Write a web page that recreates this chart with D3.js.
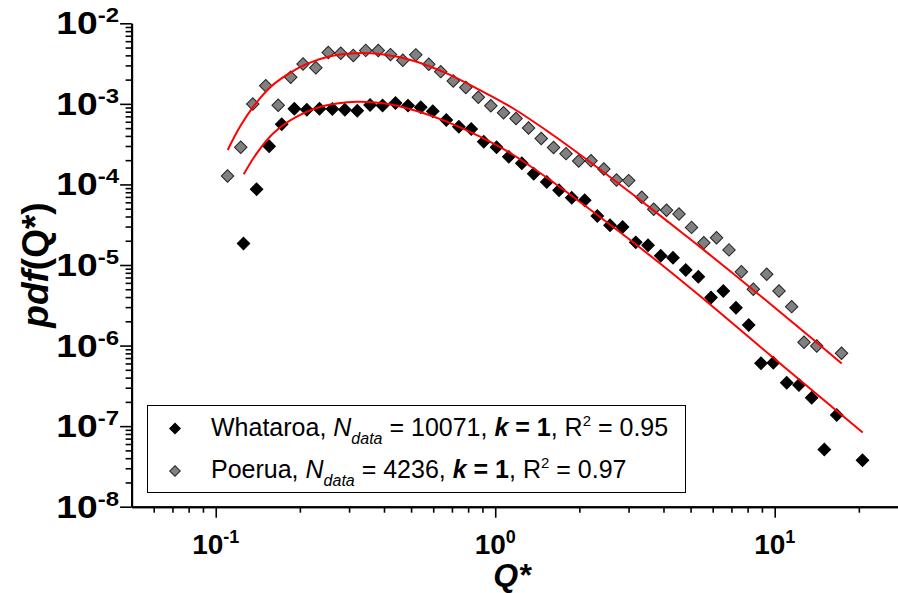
<!DOCTYPE html>
<html><head><meta charset="utf-8">
<script src="https://cdn.jsdelivr.net/npm/d3@7"></script>
<style>body{margin:0;background:#fff} svg{display:block} text{font-family:"Liberation Sans",Arial,sans-serif}</style>
</head><body><svg id="c" width="898" height="593"></svg>
<script>
// ---- data ----
const whataroaQ = [0.1257,0.140,0.1553,0.1722,0.1911,0.2118,0.2351,0.2614,0.2897,0.3209,0.3566,0.3953,0.4398,0.4875,0.5414,0.5978,0.6683,0.7410,0.8206,0.9097,1.011,1.118,1.245,1.373,1.529,1.692,1.878,2.090,2.319,2.575,2.855,3.183,3.522,3.910,4.326,4.805,5.330,5.918,6.548,7.268,8.072,8.933,9.886,11.04,12.21,13.56,15.05,16.67,20.61];
const whataroaPdf = [1.85e-5,8.73e-5,2.98e-4,5.59e-4,8.69e-4,8.44e-4,8.69e-4,8.64e-4,8.44e-4,8.23e-4,9.68e-4,9.54e-4,1.025e-3,9.52e-4,9.09e-4,8.11e-4,6.31e-4,5.21e-4,4.88e-4,3.39e-4,2.90e-4,2.20e-4,1.83e-4,1.356e-4,1.072e-4,8.48e-5,6.84e-5,6.36e-5,4.06e-5,3.12e-5,2.96e-5,1.91e-5,1.76e-5,1.305e-5,1.229e-5,8.67e-6,7.16e-6,3.95e-6,4.76e-6,2.95e-6,1.80e-6,6.03e-7,6.13e-7,3.46e-7,3.24e-7,2.25e-7,5.13e-8,1.375e-7,3.78e-8];
const poeruaQ = [0.1102,0.1229,0.1357,0.1510,0.1673,0.1855,0.2053,0.2281,0.2527,0.2801,0.3107,0.3441,0.3815,0.4220,0.4670,0.5199,0.5785,0.6383,0.7075,0.7848,0.8700,0.9645,1.071,1.187,1.316,1.461,1.617,1.792,1.989,2.202,2.447,2.716,3.003,3.344,3.691,4.101,4.545,5.040,5.576,6.192,6.862,7.597,8.384,9.363,10.36,11.50,12.73,14.14,17.34];
const poeruaPdf = [1.273e-4,2.90e-4,9.96e-4,1.680e-3,9.63e-4,2.143e-3,3.125e-3,2.81e-3,4.35e-3,4.24e-3,3.98e-3,4.61e-3,4.60e-3,4.09e-3,3.48e-3,4.06e-3,3.10e-3,2.51e-3,1.922e-3,1.597e-3,1.210e-3,9.49e-4,7.77e-4,6.57e-4,5.02e-4,3.72e-4,2.87e-4,2.41e-4,1.954e-4,1.965e-4,1.555e-4,1.135e-4,1.116e-4,6.94e-5,4.93e-5,4.79e-5,4.30e-5,2.93e-5,1.886e-5,2.18e-5,1.54e-5,8.26e-6,4.99e-6,7.67e-6,4.76e-6,3.04e-6,1.098e-6,9.88e-7,8.04e-7];
// fitted curves
const fitWhataroaQ = [0.1259,0.1402,0.1607,0.1949,0.2427,0.3196,0.3979,0.5093,0.6706,0.8822,1.161,1.571,2.371,3.580,5.403,10.45,20.64];
const fitWhataroaPdf = [1.336e-4,2.435e-4,4.31e-4,6.93e-4,9.41e-4,1.064e-3,1.016e-3,8.39e-4,6.01e-4,3.91e-4,2.32e-4,1.135e-4,3.94e-5,1.312e-5,4.12e-6,5.99e-7,8.34e-8];
const fitPoeruaQ = [0.1104,0.1222,0.1363,0.1564,0.1795,0.2117,0.2564,0.3151,0.3871,0.5093,0.6706,0.8822,1.161,1.571,2.184,3.298,4.977,6.919,11.34,17.36];
const fitPoeruaPdf = [2.676e-4,5.22e-4,9.22e-4,1.597e-3,2.289e-3,3.134e-3,3.905e-3,4.255e-3,4.159e-3,3.434e-3,2.389e-3,1.482e-3,8.76e-4,4.35e-4,1.90e-4,6.41e-5,2.10e-5,8.43e-6,2.065e-6,5.98e-7];
const xMajorTicks = [0.1, 1, 10];
const xMinorTicks = [0.06,0.07,0.08,0.09,0.2,0.3,0.4,0.5,0.6,0.7,0.8,0.9,2,3,4,5,6,7,8,9,20];
const yMajorTicks = [1e-8,1e-7,1e-6,1e-5,1e-4,1e-3,1e-2];
const yMinorTicks = [];
[-8,-7,-6,-5,-4,-3].forEach(e => { for (let k = 2; k <= 9; k++) yMinorTicks.push(k * Math.pow(10, e)); });
const legendRows = [
  {name: "Whataroa, ", n: "10071", r2: "0.95", fill: "#000000", stroke: "#000000"},
  {name: "Poerua, ", n: "4236", r2: "0.97", fill: "#808080", stroke: "#222222"}
];

// ---- scales ----
const svg = d3.select("#c");
const x = d3.scaleLog().domain([0.05, 27.5]).range([131.6, 897.5]);
const y = d3.scaleLog().domain([1e-8, 1e-2]).range([506.7, 23.3]);

// ---- axes ----
const gx = svg.append("g").attr("transform", `translate(0,${y.range()[0]})`);
gx.call(d3.axisBottom(x).tickValues(xMinorTicks).tickSize(6).tickSizeOuter(0).tickFormat(""));
gx.append("g").call(d3.axisBottom(x).tickValues(xMajorTicks).tickSize(11).tickSizeOuter(0).tickFormat(""));
const gy = svg.append("g").attr("transform", `translate(${x.range()[0]},0)`);
gy.call(d3.axisLeft(y).tickValues(yMinorTicks).tickSize(6).tickSizeOuter(0).tickFormat(""));
gy.append("g").call(d3.axisLeft(y).tickValues(yMajorTicks).tickSize(11.5).tickSizeOuter(0).tickFormat(""));
svg.selectAll(".domain").attr("stroke", "#000").attr("stroke-width", 2);
svg.selectAll(".tick line").attr("stroke", "#000").attr("stroke-width", 1.6);

// tick labels
xMajorTicks.forEach(v => {
  const t = svg.append("text").attr("x", x(v)).attr("y", 554).attr("text-anchor", "middle")
    .attr("font-weight", "bold").attr("font-size", 28);
  t.append("tspan").text("10");
  t.append("tspan").attr("font-size", 18).attr("dy", -11).text(Math.round(Math.log10(v)));
});
yMajorTicks.forEach(v => {
  const t = svg.append("text").attr("transform", `translate(119,${y(v) + 11}) scale(1.2,1)`)
    .attr("text-anchor", "end").attr("font-weight", "bold").attr("font-size", 31);
  t.append("tspan").text("10");
  t.append("tspan").attr("font-size", 20).attr("dy", -12).text(Math.round(Math.log10(v)));
});

// axis titles
svg.append("text").attr("x", 512).attr("y", 586).attr("text-anchor", "middle")
  .attr("font-weight", "bold").attr("font-style", "italic").attr("font-size", 32).text("Q*");
const yt = svg.append("text").attr("transform", "translate(48,265) rotate(-90)").attr("text-anchor", "middle")
  .attr("font-weight", "bold").attr("font-size", 37);
yt.append("tspan").attr("font-style", "italic").text("pdf");
yt.append("tspan").text("(Q*)");

// ---- markers ----
const diamond = d3.symbol().type(d3.symbolSquare).size(78);
function drawSeries(qs, ps, fill, stroke) {
  svg.append("g").selectAll("path").data(qs.map((q, i) => [q, ps[i]])).join("path")
    .attr("d", diamond)
    .attr("transform", d => `translate(${x(d[0])},${y(d[1])}) rotate(45)`)
    .attr("fill", fill).attr("stroke", stroke).attr("stroke-width", 1);
}
drawSeries(poeruaQ, poeruaPdf, "#808080", "#222222");
drawSeries(whataroaQ, whataroaPdf, "#000000", "#000000");

// ---- fit lines ----
const line = d3.line().x(d => x(d[0])).y(d => y(d[1])).curve(d3.curveCatmullRom.alpha(0.5));
[[fitPoeruaQ, fitPoeruaPdf], [fitWhataroaQ, fitWhataroaPdf]].forEach(([qs, ps]) => {
  svg.append("path").datum(qs.map((q, i) => [q, ps[i]])).attr("d", line)
    .attr("fill", "none").attr("stroke", "#ff0000").attr("stroke-width", 2);
});

// ---- legend ----
svg.append("rect").attr("x", 147.5).attr("y", 405.5).attr("width", 538).attr("height", 87)
  .attr("fill", "#fff").attr("stroke", "#000").attr("stroke-width", 1);
const legDiamond = d3.symbol().type(d3.symbolSquare).size(56);
legendRows.forEach((r, i) => {
  const by = 435.5 + i * 42.5;
  svg.append("path").attr("d", legDiamond).attr("transform", `translate(175,${by - 7}) rotate(45)`)
    .attr("fill", r.fill).attr("stroke", r.stroke).attr("stroke-width", 1);
  const t = svg.append("text").attr("x", 211).attr("y", by).attr("font-size", 25);
  t.append("tspan").text(r.name);
  t.append("tspan").attr("font-style", "italic").text("N");
  t.append("tspan").attr("font-style", "italic").attr("font-size", 16).attr("dy", 8).text("data");
  t.append("tspan").attr("dy", -8).text(" = " + r.n + ", ");
  t.append("tspan").attr("font-weight", "bold").attr("font-style", "italic").text("k");
  t.append("tspan").attr("font-weight", "bold").text(" = 1");
  t.append("tspan").text(", R");
  t.append("tspan").attr("font-size", 15).attr("dy", -10).text("2");
  t.append("tspan").attr("dy", 10).text(" = " + r.r2);
});
</script></body></html>
